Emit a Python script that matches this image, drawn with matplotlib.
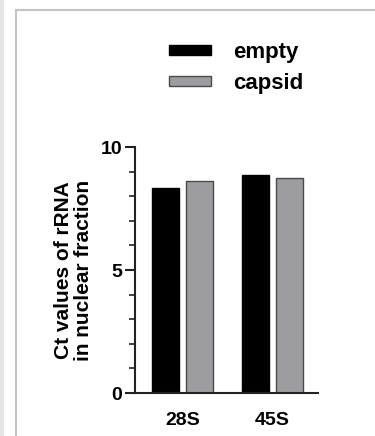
import numpy as np
import matplotlib
matplotlib.use("Agg")
import matplotlib.pyplot as plt
from matplotlib.patches import Rectangle
from matplotlib.lines import Line2D

categories = ["28S", "45S"]
series_names = ["empty", "capsid"]
empty_vals = [8.35, 8.86]
capsid_vals = [8.62, 8.73]
y_ticks = [0, 5, 10]
y_label = "Ct values of rRNA\nin nuclear fraction"

plt.rcParams["font.family"] = ["Liberation Sans", "DejaVu Sans"]
plt.rcParams["font.weight"] = "bold"

fig = plt.figure(figsize=(3.75, 4.36), dpi=100)

# page frame
fig.patches.append(Rectangle((0, 0), 4 / 375, 1, transform=fig.transFigure,
                             facecolor="#e4e4e4", edgecolor="none"))
fig.lines.append(Line2D([15.5 / 375, 15.5 / 375], [0, 1 - 10 / 436],
                        transform=fig.transFigure, color="#c4c4c4", lw=1.5))
fig.lines.append(Line2D([15.5 / 375, 1], [1 - 10 / 436, 1 - 10 / 436],
                        transform=fig.transFigure, color="#c4c4c4", lw=1.5))

ax = fig.add_axes([135 / 375, 1 - 393 / 436, (318 - 135) / 375, (393 - 147) / 436])
x = np.arange(len(categories))
w = 0.3
off = 0.19
ax.bar(x - off, empty_vals, w, color="black", edgecolor="black", lw=1,
       label=series_names[0])
ax.bar(x + off, capsid_vals, w, color="#9d9d9f", edgecolor="#4a4a4a", lw=1,
       label=series_names[1])

ax.set_xlim(-0.528, 1.506)
ax.set_ylim(0, 10)
ax.set_yticks(y_ticks)
ax.set_yticks(np.arange(0, 11, 1), minor=True)
ax.set_xticks(x)
ax.set_xticklabels(categories)
for s in ["top", "right"]:
    ax.spines[s].set_visible(False)
for s in ["left", "bottom"]:
    ax.spines[s].set_linewidth(1.5)
    ax.spines[s].set_color("#222222")
ax.tick_params(axis="y", which="major", length=7, width=1.5, labelsize=14,
               color="#222222", pad=2)
ax.tick_params(axis="y", which="minor", length=4, width=1.2, color="#222222")
ax.tick_params(axis="x", length=0, labelsize=14, pad=14)
for t in ax.get_xticklabels() + ax.get_yticklabels():
    t.set_fontweight("bold")
ax.set_ylabel(y_label, fontsize=15, fontweight="bold", linespacing=1.05,
              labelpad=6)

leg = fig.legend(loc="upper left", bbox_to_anchor=(149 / 375, 1 - 22 / 436),
                 frameon=False, fontsize=16, handlelength=1.9,
                 handleheight=0.32, handletextpad=1.0, labelspacing=0.45)
for t in leg.get_texts():
    t.set_fontweight("bold")

fig.savefig("out.png", dpi=100)
